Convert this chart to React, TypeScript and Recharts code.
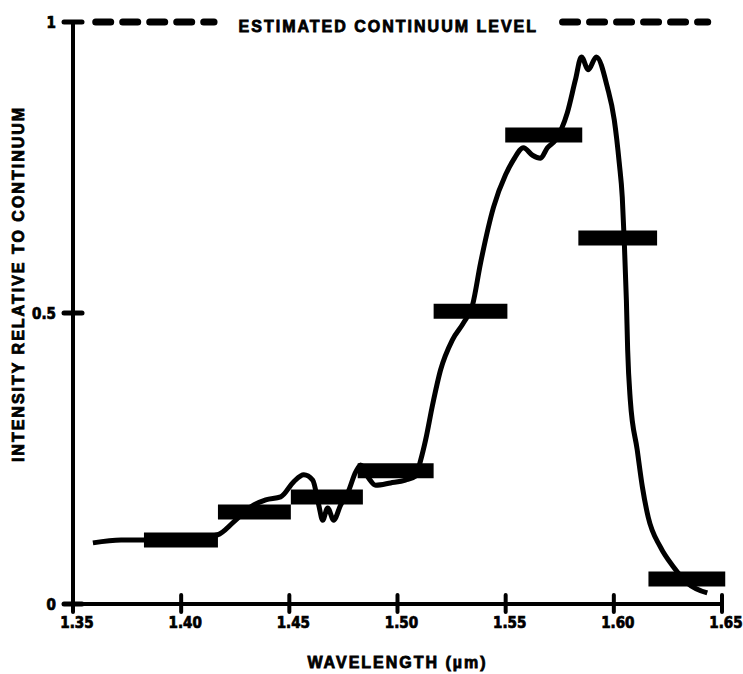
import { LineChart, Line, XAxis, YAxis, ReferenceLine, Label } from "recharts";

// traced spectrum (wavelength in µm, intensity relative to continuum)
const wavelength = [
  1.3592, 1.3722, 1.386, 1.4045, 1.4169, 1.4243, 1.4322, 1.4391, 1.446, 1.452,
  1.4567, 1.4608, 1.4636, 1.4654, 1.4677, 1.4705, 1.4737, 1.477, 1.4807, 1.483,
  1.4867, 1.4899, 1.4968, 1.5037, 1.5084, 1.5107, 1.513, 1.5162, 1.5199, 1.5254,
  1.5305, 1.5347, 1.5384, 1.5444, 1.5499, 1.5536, 1.5582, 1.5624, 1.5661, 1.5693,
  1.573, 1.5785, 1.5822, 1.585, 1.5882, 1.5919, 1.597, 1.6002, 1.6025, 1.6039,
  1.6048, 1.6058, 1.6064, 1.6076, 1.6108, 1.6132, 1.6159, 1.6215, 1.6275, 1.634,
  1.6432,
];
const intensity = [
  0.105, 0.11, 0.11, 0.113, 0.119, 0.141, 0.167, 0.179, 0.184, 0.21,
  0.222, 0.213, 0.17, 0.144, 0.165, 0.144, 0.17, 0.191, 0.227, 0.239,
  0.216, 0.204, 0.208, 0.213, 0.22, 0.247, 0.282, 0.342, 0.402, 0.454,
  0.483, 0.514, 0.586, 0.682, 0.737, 0.763, 0.784, 0.771, 0.766, 0.784,
  0.797, 0.844, 0.9, 0.94, 0.918, 0.94, 0.888, 0.832, 0.758, 0.699,
  0.625, 0.522, 0.436, 0.351, 0.265, 0.201, 0.149, 0.098, 0.064, 0.036,
  0.019,
];

// binned measurements (thick bars)
const binStart = [1.3828, 1.417, 1.4507, 1.4816, 1.5167, 1.5498, 1.5836, 1.616];
const binEnd = [1.417, 1.4507, 1.484, 1.5167, 1.5508, 1.5854, 1.62, 1.6515];
const binLevel = [0.11, 0.158, 0.184, 0.229, 0.503, 0.806, 0.629, 0.043];

const continuumLevel = 1;
const continuumLeft = [1.3605, 1.4152];
const continuumRight = [1.5763, 1.6434];

const xTicks = [1.35, 1.4, 1.45, 1.5, 1.55, 1.6, 1.65];
const xTickLabels = ["1.35", "1.40", "1.45", "1.50", "1.55", "1.60", "1.65"];
const yTicks = [0, 0.5, 1];
const yTickLabels = ["0", "0.5", "1"];

const chartData = wavelength.map((w, i) => ({ w, v: intensity[i] }));

const heavyFont = "'Liberation Sans', Arial, sans-serif";
const tickFont = "'DejaVu Sans Condensed', 'Liberation Sans Narrow', sans-serif";

const XTick = ({ x, y, index }: any) => (
  <g>
    <line x1={x} x2={x} y1={y - 9} y2={y + 8} stroke="#000" strokeWidth={4} strokeLinecap="round" />
    <text x={x + 4} y={y + 24} textAnchor="middle" fontFamily={tickFont} fontWeight={900} fontSize={15} stroke="#000" strokeWidth={0.7} fill="#000">
      {xTickLabels[index]}
    </text>
  </g>
);

const YTick = ({ x, y, index }: any) => (
  <g>
    <line x1={x - 9} x2={x + 9} y1={y} y2={y} stroke="#000" strokeWidth={5} strokeLinecap="round" />
    <text x={x - 17} y={y + 6} textAnchor="end" fontFamily={tickFont} fontWeight={900} fontSize={15} stroke="#000" strokeWidth={0.7} fill="#000">
      {yTickLabels[index]}
    </text>
  </g>
);

const YLabel = () => (
  <text
    x={24}
    y={284}
    transform="rotate(-90 24 284)"
    textAnchor="middle"
    fontFamily={heavyFont}
    fontWeight={900}
    fontSize={16}
    letterSpacing={2}
    stroke="#000"
    strokeWidth={0.8}
    fill="#000"
  >
    INTENSITY RELATIVE TO CONTINUUM
  </text>
);

export default function App() {
  return (
    <div style={{ position: "absolute", left: 0, top: 0, background: "#fff" }}>
      <LineChart width={743} height={674} data={chartData} margin={{ top: 22, right: 21, left: 0, bottom: 0 }}>
        <XAxis
          dataKey="w"
          type="number"
          domain={[1.35, 1.65]}
          ticks={xTicks}
          tick={<XTick />}
          tickSize={0}
          tickMargin={0}
          tickLine={false}
          axisLine={{ stroke: "#000", strokeWidth: 4 }}
          height={70}
          interval={0}
        >
          <Label
            value="WAVELENGTH (µm)"
            position="insideBottom"
            offset={6}
            fontFamily={heavyFont}
            fontWeight={900}
            fontSize={16}
            letterSpacing={2}
            stroke="#000"
            strokeWidth={0.8}
            fill="#000"
          />
        </XAxis>
        <YAxis
          type="number"
          domain={[0, 1]}
          ticks={yTicks}
          tick={<YTick />}
          tickSize={0}
          tickMargin={0}
          tickLine={false}
          axisLine={{ stroke: "#000", strokeWidth: 4 }}
          width={73}
          interval={0}
        >
          <Label content={<YLabel />} />
        </YAxis>

        <ReferenceLine
          segment={[{ x: continuumLeft[0], y: continuumLevel }, { x: continuumLeft[1], y: continuumLevel }]}
          stroke="#000"
          strokeWidth={7}
          strokeDasharray="15 12"
          strokeLinecap="round"
          ifOverflow="visible"
        />
        <ReferenceLine
          segment={[{ x: continuumLeft[1], y: continuumLevel }, { x: continuumRight[0], y: continuumLevel }]}
          stroke="none"
          ifOverflow="visible"
        >
          <Label
            value="ESTIMATED CONTINUUM LEVEL"
            position="center"
            dy={4}
            fontFamily={heavyFont}
            fontWeight={900}
            fontSize={16}
            letterSpacing={2}
            stroke="#000"
            strokeWidth={0.8}
            fill="#000"
          />
        </ReferenceLine>
        <ReferenceLine
          segment={[{ x: continuumRight[0], y: continuumLevel }, { x: continuumRight[1], y: continuumLevel }]}
          stroke="#000"
          strokeWidth={7}
          strokeDasharray="15 12"
          strokeLinecap="round"
          ifOverflow="visible"
        />

        <Line
          dataKey="v"
          type="monotone"
          stroke="#000"
          strokeWidth={5}
          dot={false}
          isAnimationActive={false}
        />

        {binLevel.map((lv, i) => (
          <ReferenceLine
            key={i}
            segment={[{ x: binStart[i], y: lv }, { x: binEnd[i], y: lv }]}
            stroke="#000"
            strokeWidth={15}
            ifOverflow="visible"
          />
        ))}
      </LineChart>
    </div>
  );
}
